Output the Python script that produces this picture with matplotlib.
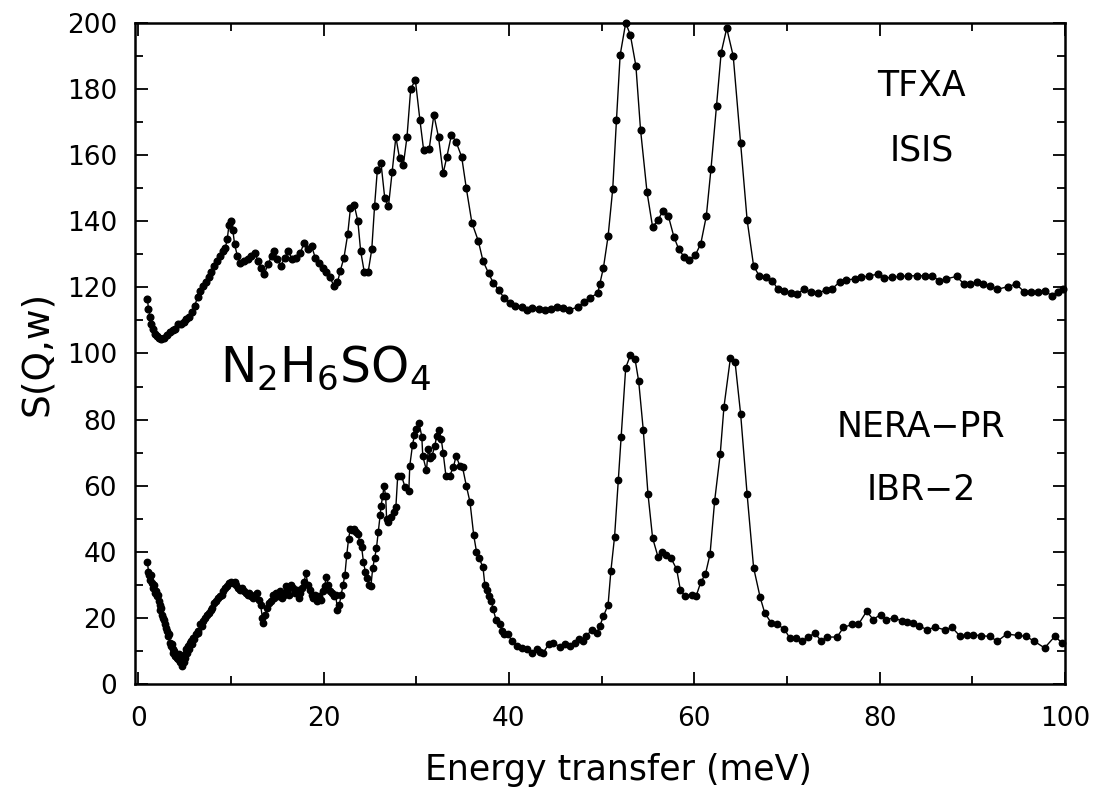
import matplotlib
matplotlib.use('Agg')
import matplotlib.pyplot as plt
from matplotlib.ticker import MultipleLocator

plt.rcParams['font.family'] = ['DejaVu Sans']

# TFXA (ISIS) spectrum
tfxa_e = [1.0, 1.1, 1.3, 1.4, 1.6, 1.8, 2.0, 2.2, 2.5, 2.8, 3.1, 3.4, 3.7, 4.0, 4.3,
          4.6, 4.9, 5.2, 5.5, 5.8, 6.1, 6.4, 6.7, 7.0, 7.3, 7.6, 7.9, 8.2, 8.5, 8.8,
          9.1, 9.4, 9.6, 9.8, 10.0, 10.2, 10.4, 10.7, 11.0, 11.4, 11.8, 12.2, 12.6, 12.9,
          13.2, 13.6, 14.0, 14.4, 14.7, 15.0, 15.4, 15.8, 16.2, 16.6, 17.0, 17.5, 17.9,
          18.3, 18.7, 19.1, 19.5, 19.9, 20.3, 20.7, 21.1, 21.5, 21.8, 22.2, 22.6, 22.9,
          23.3, 23.7, 24.0, 24.4, 24.8, 25.2, 25.5, 25.8, 26.2, 26.6, 27.0, 27.4, 27.8,
          28.2, 28.6, 29.0, 29.4, 29.9, 30.4, 30.8, 31.4, 31.9, 32.4, 32.9, 33.3, 33.8,
          34.3, 34.9, 35.4, 36.0, 36.7, 37.2, 37.8, 38.3, 38.9, 39.5, 40.1, 40.7, 41.4,
          42.0, 42.5, 43.2, 43.9, 44.5, 45.2, 45.8, 46.5, 47.4, 48.1, 48.8, 49.6, 49.8,
          50.2, 50.7, 51.2, 51.6, 52.0, 52.6, 53.1, 53.7, 54.2, 54.9, 55.5, 56.1, 56.6,
          57.2, 57.8, 58.3, 58.9, 59.4, 60.1, 60.7, 61.3, 61.8, 62.4, 62.9, 63.5, 64.2,
          65.0, 65.7, 66.4, 67.0, 67.7, 68.4, 69.0, 69.7, 70.4, 71.1, 71.8, 72.6, 73.4,
          74.2, 74.9, 75.7, 76.4, 77.3, 78.0, 78.9, 79.8, 80.5, 81.3, 82.2, 83.1, 84.0,
          84.9, 85.7, 86.4, 87.2, 88.3, 89.1, 89.7, 90.5, 91.1, 91.9, 92.7, 93.8, 94.7,
          95.6, 96.3, 97.1, 97.8, 98.6, 99.2, 99.8]
tfxa_s = [116.5, 113.5, 111, 109, 107.5, 106, 105.3, 104.8, 104.5, 104.8, 105.5, 106.5,
          107, 107.5, 108.8, 109, 109.5, 110.5, 111, 112.5, 114.5, 117, 119, 120.5, 121.5,
          123, 124.5, 126.5, 128, 129.5, 131, 132, 134.5, 139, 140, 137.5, 133, 129.5,
          127.5, 128, 128.5, 129.5, 130.5, 128, 126, 124, 127, 129.5, 131, 128.5, 126.5,
          129, 131, 128.5, 129, 130.5, 133.5, 131.5, 132.5, 129, 127.5, 126, 124.5, 123,
          120.5, 121.5, 125, 129, 136, 144, 145, 140, 131, 124.5, 124.5, 131.5, 144.5,
          155.5, 157.5, 147, 144.5, 155, 165.5, 159, 157, 165.5, 180, 182.8, 170.5, 161.5,
          162, 172.2, 165.5, 154.5, 159.5, 166.2, 164, 159.5, 150, 139.6, 134, 128, 124.3,
          121.4, 119.2, 116.7, 115.4, 114.4, 114.2, 113.2, 113.7, 113.6, 113.2, 113.6, 114,
          113.8, 113.2, 114, 115.6, 116.8, 118.4, 121, 126, 135.5, 149.8, 170.5, 190.3,
          200, 196.4, 187, 167.7, 148.8, 138.3, 140.4, 143.1, 141.6, 135.3, 131.7, 129.2,
          128.3, 129.7, 133.2, 141.6, 155.8, 175, 191, 198.4, 190, 163.7, 140.4, 126.5,
          123.5, 123, 122, 119.6, 119, 118.4, 118, 119.4, 118.7, 118.2, 119.3, 119.6, 121.7,
          122.3, 122.5, 123, 123.5, 124, 122.8, 123, 123.3, 123.5, 123.5, 123.5, 123.5, 122,
          122.6, 123.3, 121, 121.1, 121.6, 121, 120.5, 119.4, 120.2, 121, 118.7, 118.5,
          118.7, 119, 117.4, 118.7, 119.4]

# NERA-PR (IBR-2) spectrum
nera_e = [1.0, 1.1, 1.2, 1.3, 1.4, 1.5, 1.6, 1.7, 1.8, 1.9, 2.0, 2.1, 2.2, 2.3, 2.4, 2.5,
          2.6, 2.7, 2.8, 2.9, 3.0, 3.1, 3.2, 3.3, 3.4, 3.5, 3.6, 3.7, 3.8, 3.9, 4.0, 4.1,
          4.2, 4.3, 4.4, 4.5, 4.6, 4.7, 4.8, 4.9, 5.0, 5.1, 5.2, 5.3, 5.4, 5.5, 5.6, 5.7,
          5.8, 5.9, 6.0, 6.2, 6.4, 6.5, 6.7, 6.9, 7.0, 7.2, 7.4, 7.6, 7.8, 8.0, 8.2, 8.4,
          8.6, 8.8, 9.0, 9.2, 9.4, 9.6, 9.8, 10.0, 10.2, 10.4, 10.6, 10.8, 11.0, 11.2, 11.4,
          11.6, 11.8, 12.0, 12.2, 12.4, 12.6, 12.8, 13.0, 13.2, 13.4, 13.5, 13.7, 13.9,
          14.1, 14.3, 14.5, 14.7, 14.9, 15.1, 15.3, 15.5, 15.7, 15.9, 16.1, 16.3, 16.5,
          16.7, 16.9, 17.1, 17.3, 17.5, 17.7, 17.9, 18.1, 18.3, 18.5, 18.7, 18.9, 19.1,
          19.3, 19.5, 19.7, 19.9, 20.1, 20.3, 20.5, 20.7, 20.9, 21.1, 21.3, 21.5, 21.7,
          21.9, 22.1, 22.3, 22.5, 22.7, 22.9, 23.1, 23.3, 23.5, 23.7, 23.9, 24.1, 24.3,
          24.5, 24.7, 24.9, 25.1, 25.3, 25.5, 25.7, 25.9, 26.1, 26.2, 26.4, 26.5, 26.7,
          26.8, 27.0, 27.3, 27.6, 27.8, 28.0, 28.4, 28.8, 29.2, 29.3, 29.6, 29.8, 30.0,
          30.3, 30.6, 30.7, 31.1, 31.3, 31.5, 31.7, 32.0, 32.2, 32.5, 32.7, 32.9, 33.2,
          33.6, 34.0, 34.3, 34.7, 35.0, 35.4, 35.8, 36.2, 36.5, 36.8, 37.2, 37.4, 37.6,
          37.9, 38.1, 38.3, 38.6, 39.0, 39.3, 39.5, 39.9, 40.3, 40.9, 41.4, 42.0, 42.5,
          43.0, 43.4, 43.7, 44.3, 44.8, 45.5, 46.1, 46.6, 47.1, 47.6, 48.0, 48.3, 49.0,
          49.5, 49.8, 50.2, 50.7, 51.0, 51.4, 51.8, 52.1, 52.6, 53.1, 53.6, 54.0, 54.5,
          55.0, 55.5, 56.1, 56.5, 57.0, 57.5, 58.1, 58.5, 59.0, 59.7, 60.2, 60.7, 61.2,
          61.7, 62.2, 62.8, 63.2, 63.9, 64.4, 65.0, 65.7, 66.4, 67.1, 67.6, 68.3, 68.9,
          69.7, 70.3, 71.0, 71.6, 72.3, 73.0, 73.7, 74.3, 75.4, 76.1, 77.0, 77.7, 78.6,
          79.3, 80.1, 80.7, 81.6, 82.4, 83.0, 83.6, 84.3, 85.1, 86.0, 87.0, 87.8, 88.7,
          89.4, 90.1, 90.9, 91.9, 92.7, 93.7, 94.9, 95.8, 96.7, 97.8, 98.9, 99.7]
nera_s = [37, 34, 33, 31.5, 33, 30.5, 29, 30, 27.5, 28, 26.5, 27, 25, 24, 22.5, 23, 21,
          20, 19.5, 18, 17, 16, 14.5, 15, 12.5, 11.5, 12, 10.5, 9.5, 10, 8.5, 9, 8, 7.5,
          9, 6.5, 7, 5.5, 8, 6.5, 9, 8, 10.5, 9.5, 11.5, 10.5, 12.5, 13, 12, 14, 13.5, 15,
          16, 15.5, 18, 17.5, 19, 20, 21, 21.5, 22.5, 23, 24.5, 25, 26, 26.5, 27, 28, 29,
          29.5, 30.5, 31, 30.5, 31, 30, 29, 28.5, 29, 28, 27.5, 27, 27.5, 26.5, 26, 27,
          27.5, 25.5, 24, 20, 18.5, 21, 23, 24.5, 25, 27, 26, 27.5, 26.5, 28, 26, 27, 29.5,
          28, 27, 30, 29, 27.5, 28.5, 26, 27.5, 29, 31, 33.5, 30, 28.5, 27, 26, 27, 25,
          26.5, 25.5, 28, 29.5, 32.5, 30, 28, 27.5, 26.5, 27, 22.5, 24, 27, 30, 33, 39, 44,
          47, 46.5, 47, 46, 45.5, 43, 41.5, 37, 34, 32, 30, 29.5, 35, 38, 41, 46, 51, 54,
          57, 60, 57, 50, 49, 50.5, 52, 53.5, 63, 63, 59.5, 58.5, 66, 72.4, 75.2, 77, 79,
          74.8, 69, 64.6, 71, 68.5, 69, 72, 75, 76.7, 74, 70, 63, 63, 65.5, 69, 66, 65.5,
          60, 55, 45, 40, 38, 35.3, 30, 28.5, 26.5, 25.2, 22.6, 19.5, 18, 16, 15, 15.2, 13,
          11.5, 11, 10.5, 9.5, 10.5, 9.8, 9.5, 12, 12.5, 11.2, 12.2, 11.5, 12.5, 13.5, 13,
          14.5, 16.4, 15.5, 17.5, 20.5, 24, 34.2, 44.6, 61.7, 74.7, 95.7, 99.4, 98.4, 91.6,
          76.7, 57.6, 44.2, 38.3, 39.8, 39, 38, 34.7, 28.4, 26.6, 27, 26.6, 30.8, 33.2,
          39.3, 55.5, 69.6, 83.8, 98.7, 97.4, 81.7, 57.4, 35.2, 26.3, 21.5, 18.5, 18, 16.7,
          13.9, 13.8, 12.9, 14.2, 15.4, 13, 14.2, 14.2, 17.1, 18, 18, 22, 19.5, 21, 19.5,
          20, 19, 18.7, 18.4, 17.6, 16.4, 17.2, 16.4, 17.1, 14.4, 14.9, 14.9, 14.6, 14.4,
          12.9, 15.1, 14.7, 14.4, 12.9, 10.9, 14.4, 12.4]

fig = plt.figure(figsize=(11.01, 7.92), dpi=100)
ax = fig.add_axes([0.1226, 0.1364, 0.8447, 0.8346])

ax.plot(tfxa_e, tfxa_s, 'k-', marker='o', ms=4.8, lw=1.0, clip_on=False)
ax.plot(nera_e, nera_s, 'k-', marker='o', ms=4.6, lw=1.0, clip_on=False)

ax.set_xlim(-0.35, 100)
ax.set_ylim(0, 200)
ax.xaxis.set_major_locator(MultipleLocator(20))
ax.xaxis.set_minor_locator(MultipleLocator(10))
ax.yaxis.set_major_locator(MultipleLocator(20))
ax.yaxis.set_minor_locator(MultipleLocator(10))
ax.tick_params(which='both', direction='in', top=True, right=True, width=1.3)
ax.tick_params(which='major', length=9, labelsize=19)
ax.tick_params(which='minor', length=5.5)
ax.tick_params(axis='x', which='major', pad=16)
ax.tick_params(axis='y', which='major', pad=13)
for sp in ax.spines.values():
    sp.set_linewidth(1.8)

ax.set_xlabel('Energy transfer (meV)', fontsize=25)
ax.xaxis.set_label_coords(0.52, -0.105)
ax.set_ylabel('S(Q,w)', fontsize=27)
ax.yaxis.set_label_coords(-0.086, 0.5)

ax.text(8.8, 91.4, r'$\mathregular{N_2H_6SO_4}$', fontsize=35, ha='left', va='baseline')
ax.text(84.5, 181, 'TFXA', fontsize=25, ha='center', va='center')
ax.text(84.5, 161.3, 'ISIS', fontsize=25, ha='center', va='center')
ax.text(84.5, 77.8, 'NERA\u2212PR', fontsize=25, ha='center', va='center')
ax.text(84.5, 58.7, 'IBR\u22122', fontsize=25, ha='center', va='center')

fig.savefig('out.png', dpi=100)
